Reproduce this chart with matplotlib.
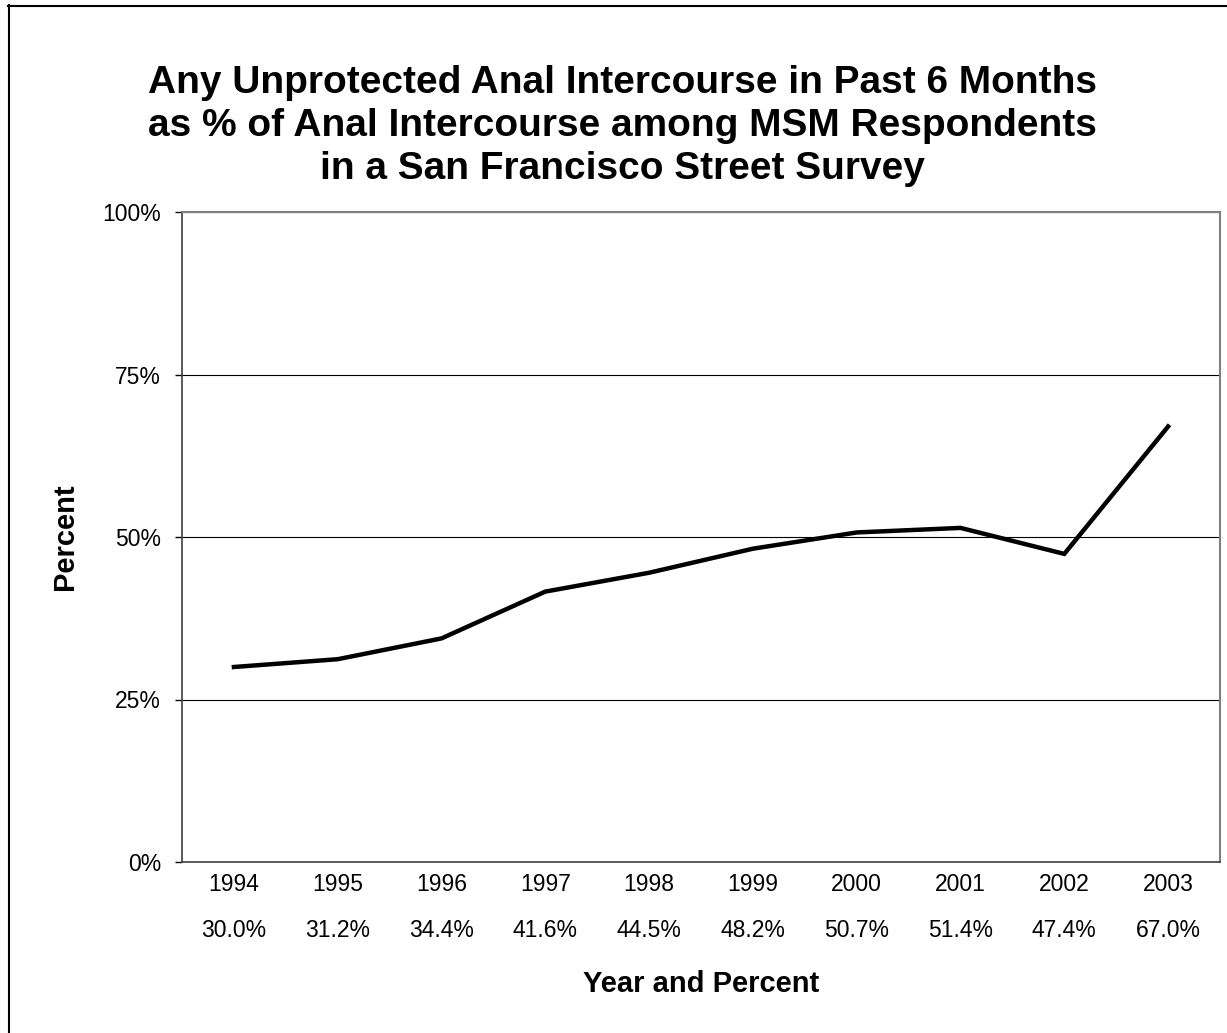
import matplotlib
matplotlib.use("Agg")
import matplotlib.pyplot as plt
from matplotlib.lines import Line2D

years = ["1994", "1995", "1996", "1997", "1998", "1999", "2000", "2001", "2002", "2003"]
percents = [30.0, 31.2, 34.4, 41.6, 44.5, 48.2, 50.7, 51.4, 47.4, 67.0]
yticks = [0, 25, 50, 75, 100]
ytick_labels = ["0%", "25%", "50%", "75%", "100%"]

plt.rcParams['font.family'] = ['Liberation Sans', 'DejaVu Sans']

W, H = 1227, 1033
fig = plt.figure(figsize=(W / 100, H / 100), dpi=100)
ax = fig.add_axes([182 / W, 1 - 862 / H, (1220 - 182) / W, (862 - 212) / H])

x = list(range(len(years)))
ax.plot(x, percents, color='black', lw=3.2, solid_joinstyle='miter', zorder=3)

ax.set_xlim(-0.5, len(years) - 0.5)
ax.set_ylim(0, 100)
ax.set_yticks(yticks)
ax.set_yticklabels(ytick_labels, fontsize=16.5)
ax.yaxis.grid(True, color='black', lw=0.8)
ax.set_axisbelow(True)
ax.set_xticks(x)
ax.set_xticklabels([f"{y}\n{p:.1f}%" for y, p in zip(years, percents)], fontsize=16.5,
                   linespacing=2.28)
ax.tick_params(axis='x', length=0, pad=8)
ax.tick_params(axis='y', length=5, width=1, direction='out', pad=10)

for s in ['top', 'right']:
    ax.spines[s].set_color('#808080')
    ax.spines[s].set_linewidth(1.5)
for s in ['left', 'bottom']:
    ax.spines[s].set_color('#404040')
    ax.spines[s].set_linewidth(1.2)

ax.set_ylabel("Percent", fontsize=21, fontweight='bold', labelpad=17)
ax.set_xlabel("Year and Percent", fontsize=21, fontweight='bold', labelpad=20)

fig.text(622 / W, 1 - 126 / H,
         "Any Unprotected Anal Intercourse in Past 6 Months\n"
         "as % of Anal Intercourse among MSM Respondents\n"
         "in a San Francisco Street Survey",
         ha='center', va='center', fontsize=28, fontweight='bold', linespacing=1.25)

# outer border
fig.add_artist(Line2D([8 / W, 1], [1 - 5.5 / H, 1 - 5.5 / H], color='black', lw=1.5,
                      transform=fig.transFigure))
fig.add_artist(Line2D([8.5 / W, 8.5 / W], [0, 1 - 5 / H], color='black', lw=1.5,
                      transform=fig.transFigure))

fig.savefig("out.png", dpi=100)
